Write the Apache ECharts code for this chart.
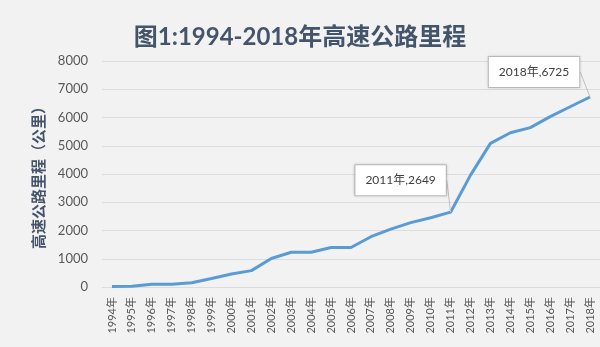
<!DOCTYPE html>
<html><head><meta charset="utf-8">
<script src="https://cdn.jsdelivr.net/npm/echarts@6/dist/echarts.min.js"></script>
<style>html,body{margin:0;padding:0;background:#f2f2f2}#c{width:600px;height:347px}</style>
</head><body><div id="c"></div>
<script>
var titleText = '图1:1994-2018年高速公路里程';
var yAxisName = '高速公路里程（公里）';
var years = ['1994年','1995年','1996年','1997年','1998年','1999年','2000年','2001年','2002年','2003年','2004年','2005年','2006年','2007年','2008年','2009年','2010年','2011年','2012年','2013年','2014年','2015年','2016年','2017年','2018年'];
var mileage = [20, 30, 100, 100, 150, 300, 460, 580, 1010, 1230, 1230, 1400, 1400, 1780, 2050, 2280, 2450, 2649, 3960, 5085, 5460, 5640, 6030, 6380, 6725];
var calloutIdx = [17, 24];
var yTicks = {min: 0, max: 8000, interval: 1000};

var FONT = "Lato, 'Noto Sans CJK SC', sans-serif";
var chart = echarts.init(document.getElementById('c'));
var seriesData = mileage.map(function (v, i) {
  if (calloutIdx.indexOf(i) >= 0) {
    return {
      value: v,
      label: {
        show: true,
        position: 'top',
        distance: 5,
        formatter: years[i] + ',' + v,
        backgroundColor: '#ffffff',
        borderColor: '#bfbfbf',
        borderWidth: 1,
        padding: [9, 10],
        color: '#404040',
        fontSize: 12,
        fontFamily: FONT,
        shadowColor: 'rgba(0,0,0,0.15)',
        shadowBlur: 3
      },
      labelLine: {show: true, lineStyle: {color: '#bfbfbf', width: 1}}
    };
  }
  return v;
});
chart.setOption({
  backgroundColor: '#f2f2f2',
  animation: false,
  title: {
    text: titleText, left: 'center', top: 20,
    textStyle: {fontSize: 24, fontWeight: 'bold', color: '#44546a', fontFamily: FONT}
  },
  grid: {left: 102, right: -2, top: 61, bottom: 60, containLabel: false},
  xAxis: {
    type: 'category', data: years, boundaryGap: true,
    axisLine: {show: false},
    axisTick: {show: false},
    axisLabel: {rotate: 90, interval: 0, color: '#595959', fontSize: 11, fontFamily: FONT, margin: 10}
  },
  yAxis: {
    type: 'value', min: yTicks.min, max: yTicks.max, interval: yTicks.interval,
    name: yAxisName, nameLocation: 'middle', nameGap: 50, nameRotate: 90,
    nameTextStyle: {fontSize: 15, fontWeight: 'bold', color: '#44546a', fontFamily: FONT},
    axisLine: {show: false}, axisTick: {show: false},
    axisLabel: {color: '#595959', fontSize: 13, fontFamily: FONT, margin: 14, formatter: function (v) { return String(v); }},
    splitLine: {lineStyle: {color: '#dcdcdc', width: 1}}
  },
  series: [{
    type: 'line', data: seriesData, showSymbol: true, symbol: 'circle', symbolSize: 0.01,
    lineStyle: {color: '#5b9bd5', width: 3},
    itemStyle: {color: '#5b9bd5'},
    labelLayout: function (p) {
      if (p.dataIndex === 17) return {dx: -50, dy: -12};
      if (p.dataIndex === 24) return {dx: -56, dy: -5};
      return {};
    }
  }]
});
</script></body></html>
